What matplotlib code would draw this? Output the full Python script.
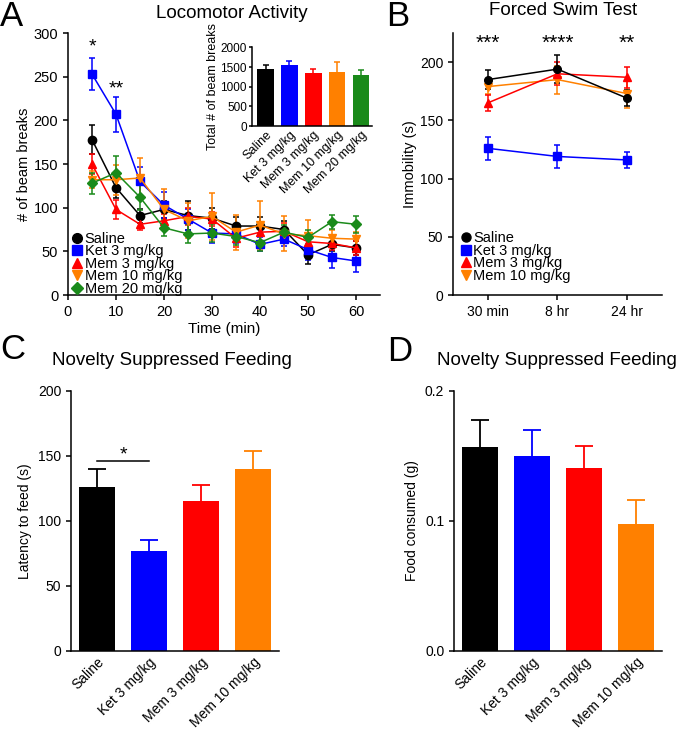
import numpy as np
import matplotlib
matplotlib.use('Agg')
import matplotlib.pyplot as plt
from matplotlib.lines import Line2D

plt.rcParams['font.family'] = ['Liberation Sans', 'DejaVu Sans']
plt.rcParams['axes.linewidth'] = 1.1
plt.rcParams['xtick.major.width'] = 1.1
plt.rcParams['ytick.major.width'] = 1.1
plt.rcParams['xtick.major.size'] = 3.5
plt.rcParams['ytick.major.size'] = 3.5

# ---- data ----
groups5 = ['Saline', 'Ket 3 mg/kg', 'Mem 3 mg/kg', 'Mem 10 mg/kg', 'Mem 20 mg/kg']
colors5 = ['#000000', '#0000FF', '#FF0000', '#FF8000', '#1A8A1A']
markers5 = ['o', 's', '^', 'v', 'D']

time_min = [5, 10, 15, 20, 25, 30, 35, 40, 45, 50, 55, 60]
loco_saline = [178, 123, 91, 98, 91, 88, 79, 79, 75, 46, 58, 54]
loco_ket = [253, 207, 130, 103, 87, 71, 70, 58, 64, 52, 43, 39]
loco_mem3 = [150, 98, 81, 85, 90, 87, 65, 72, 73, 61, 59, 54]
loco_mem10 = [132, 132, 134, 98, 85, 90, 72, 80, 70, 68, 65, 64]
loco_mem20 = [128, 140, 112, 77, 70, 71, 67, 60, 72, 66, 84, 81]
loco_saline_err = [17, 12, 8, 10, 17, 12, 10, 10, 10, 10, 8, 8]
loco_ket_err = [18, 20, 17, 15, 12, 12, 10, 8, 8, 12, 12, 13]
loco_mem3_err = [11, 11, 6, 8, 10, 8, 10, 10, 10, 8, 8, 8]
loco_mem10_err = [10, 17, 23, 23, 20, 27, 20, 28, 20, 18, 10, 8]
loco_mem20_err = [12, 19, 15, 9, 11, 10, 10, 10, 8, 8, 8, 10]

total_breaks = [1440, 1540, 1340, 1380, 1310]
total_breaks_err = [110, 110, 100, 240, 110]

fst_times = ['30 min', '8 hr', '24 hr']
fst_saline = [185, 194, 169]
fst_ket = [126, 119, 116]
fst_mem3 = [165, 190, 187]
fst_mem10 = [179, 185, 173]
fst_saline_err = [8, 12, 7]
fst_ket_err = [10, 10, 7]
fst_mem3_err = [7, 10, 9]
fst_mem10_err = [6, 12, 12]
fst_stars = ['***', '****', '**']

nsf_groups = ['Saline', 'Ket 3 mg/kg', 'Mem 3 mg/kg', 'Mem 10 mg/kg']
nsf_latency = [126, 77, 115, 140]
nsf_latency_err = [14, 8, 12.5, 14]
nsf_food = [0.157, 0.150, 0.141, 0.098]
nsf_food_err = [0.021, 0.020, 0.017, 0.018]

fig = plt.figure(figsize=(6.77, 7.29), dpi=100)


def style(ax):
    ax.spines['top'].set_visible(False)
    ax.spines['right'].set_visible(False)
    ax.tick_params(direction='out', colors='black')


def up_errorbar(ax, x, v, e, c, capsize, lw):
    # one-sided (upper) error bar, no cap at the bar top
    _, caps, _ = ax.errorbar(x, v, yerr=[[0], [e]], color=c, elinewidth=lw,
                             capsize=capsize, capthick=lw)
    caps[0].set_visible(False)


# ---- Panel A ----
axA = fig.add_axes([0.1004, 0.5953, 0.4609, 0.3594])
style(axA)
loco = [loco_saline, loco_ket, loco_mem3, loco_mem10, loco_mem20]
loco_err = [loco_saline_err, loco_ket_err, loco_mem3_err, loco_mem10_err, loco_mem20_err]
for vals, errs, c, m in zip(loco, loco_err, colors5, markers5):
    axA.errorbar(time_min, vals, yerr=errs, color=c, marker=m, markersize=6 if m != 'D' else 5,
                 lw=1.1, elinewidth=1.1, capsize=2.5, capthick=1.1)
axA.set_xlim(0, 65)
axA.set_ylim(0, 300)
axA.set_xticks(range(0, 61, 10))
axA.set_yticks(range(0, 301, 50))
axA.tick_params(labelsize=10.5)
axA.set_xlabel('Time (min)', fontsize=11, labelpad=2)
axA.set_ylabel('# of beam breaks', fontsize=10.5, labelpad=2)
axA.text(5, 284, '*', ha='center', va='center', fontsize=14)
axA.text(10, 236, '**', ha='center', va='center', fontsize=14)
handlesA = [Line2D([], [], ls='none', marker=m, color=c, markersize=7 if m != 'D' else 6)
            for c, m in zip(colors5, markers5)]
axA.legend(handlesA, groups5, loc='lower left', bbox_to_anchor=(0.0, -0.02), frameon=False,
           fontsize=10.5, handlelength=0.6, handletextpad=0.25, labelspacing=-0.1,
           borderpad=0.1, borderaxespad=0.2)

# inset
axI = fig.add_axes([0.372, 0.827, 0.177, 0.108])
style(axI)
xi = np.arange(len(groups5))
axI.bar(xi, total_breaks, width=0.7, color=colors5)
for x, v, e, c in zip(xi, total_breaks, total_breaks_err, colors5):
    up_errorbar(axI, x, v, e, c, 2.5, 1.1)
axI.set_xlim(-0.58, 4.45)
axI.set_ylim(0, 2000)
axI.set_yticks(range(0, 2001, 500))
axI.set_xticks(xi)
axI.set_xticklabels(groups5, rotation=45, ha='right', rotation_mode='anchor', fontsize=9)
axI.tick_params(axis='y', labelsize=8.5, length=2.5, pad=1)
axI.tick_params(axis='x', length=0, pad=2)
axI.set_ylabel('Total # of beam breaks', fontsize=9, labelpad=1)

fig.text(0.0, 1.0, 'A', fontsize=25, ha='left', va='top')
fig.text(0.343, 0.982, 'Locomotor Activity', fontsize=13.5, ha='center', va='center')

# ---- Panel B ----
axB = fig.add_axes([0.6691, 0.5953, 0.3087, 0.3594])
style(axB)
xb = np.arange(len(fst_times))
fst = [fst_saline, fst_ket, fst_mem3, fst_mem10]
fst_err = [fst_saline_err, fst_ket_err, fst_mem3_err, fst_mem10_err]
order = [3, 2, 1, 0]
for i in order:
    m = markers5[i]
    axB.errorbar(xb, fst[i], yerr=fst_err[i], color=colors5[i], marker=m,
                 markersize=5.5, lw=1.1, elinewidth=1.1, capsize=2.5, capthick=1.1)
axB.set_xlim(-0.5, 2.5)
axB.set_ylim(0, 225)
axB.set_yticks(range(0, 201, 50))
axB.set_xticks(xb)
axB.set_xticklabels(fst_times)
axB.tick_params(labelsize=10)
axB.set_ylabel('Immobility (s)', fontsize=10.5, labelpad=2)
for x, s in zip(xb, fst_stars):
    axB.text(x, 216, s, ha='center', va='center', fontsize=15)
handlesB = [Line2D([], [], ls='none', marker=m, color=c, markersize=6.5)
            for c, m in zip(colors5[:4], markers5[:4])]
axB.legend(handlesB, groups5[:4], loc='lower left', bbox_to_anchor=(0.0, 0.013), frameon=False,
           fontsize=10.5, handlelength=0.6, handletextpad=0.2, labelspacing=-0.1,
           borderpad=0.1, borderaxespad=0.5)

fig.text(0.571, 1.0, 'B', fontsize=25, ha='left', va='top')
fig.text(0.832, 0.985, 'Forced Swim Test', fontsize=13.5, ha='center', va='center')


# ---- Panels C and D ----
def bar_panel(rect, vals, errs, ylim, yticks, ylabel, fmt):
    ax = fig.add_axes(rect)
    style(ax)
    xc = np.arange(len(nsf_groups))
    cols = colors5[:4]
    ax.bar(xc, vals, width=0.69, color=cols)
    for x, v, e, c in zip(xc, vals, errs, cols):
        up_errorbar(ax, x, v, e, c, 6.5, 1.3)
    ax.set_xlim(-0.5, 3.5)
    ax.set_ylim(*ylim)
    ax.set_yticks(yticks)
    ax.set_yticklabels([fmt.format(t) for t in yticks])
    ax.set_xticks(xc)
    ax.set_xticklabels(nsf_groups, rotation=45, ha='right', rotation_mode='anchor', fontsize=10)
    ax.tick_params(axis='x', length=0, pad=3)
    ax.tick_params(axis='y', labelsize=10)
    ax.set_ylabel(ylabel, fontsize=10, labelpad=4)
    return ax


axC = bar_panel([0.1049, 0.107, 0.3072, 0.3567], nsf_latency, nsf_latency_err,
                (0, 200), [0, 50, 100, 150, 200], 'Latency to feed (s)', '{:d}')
axC.plot([0, 1], [146, 146], color='black', lw=1.1)
axC.text(0.5, 144, '*', ha='center', va='bottom', fontsize=14)
fig.text(0.0, 0.52, 'C', fontsize=25, ha='left', va='center')
fig.text(0.254, 0.506, 'Novelty Suppressed Feeding', fontsize=13.5, ha='center', va='center')

axD = bar_panel([0.6706, 0.107, 0.3072, 0.3567], nsf_food, nsf_food_err,
                (0, 0.2), [0.0, 0.1, 0.2], 'Food consumed (g)', '{:.1f}')
fig.text(0.572, 0.518, 'D', fontsize=25, ha='left', va='center')
fig.text(0.822, 0.505, 'Novelty Suppressed Feeding', fontsize=13.5, ha='center', va='center')

fig.savefig('out.png', dpi=100)
